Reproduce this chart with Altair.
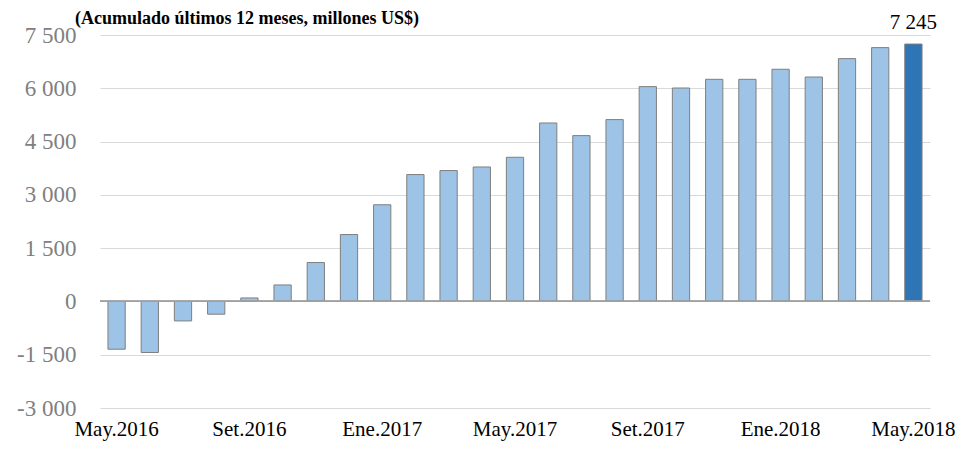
import altair as alt
import pandas as pd

months = ["May.2016", "Jun.2016", "Jul.2016", "Ago.2016", "Set.2016", "Oct.2016",
          "Nov.2016", "Dic.2016", "Ene.2017", "Feb.2017", "Mar.2017", "Abr.2017",
          "May.2017", "Jun.2017", "Jul.2017", "Ago.2017", "Set.2017", "Oct.2017",
          "Nov.2017", "Dic.2017", "Ene.2018", "Feb.2018", "Mar.2018", "Abr.2018",
          "May.2018"]
values = [-1345, -1438, -549, -360, 98, 464, 1095, 1883, 2721, 3571, 3684, 3785,
          4058, 5023, 4668, 5119, 6047, 6008, 6253, 6253, 6535, 6317, 6835, 7145,
          7245]
highlight = [False] * 24 + [True]
tick_labels = ["May.2016", "Set.2016", "Ene.2017", "May.2017", "Set.2017",
               "Ene.2018", "May.2018"]
y_ticks = [-3000, -1500, 0, 1500, 3000, 4500, 6000, 7500]
title_text = "(Acumulado últimos 12 meses, millones US$)"
last_label = "7 245"

df = pd.DataFrame({"mes": months, "valor": values, "ult": highlight})
df["etiqueta"] = ["" for _ in range(24)] + [last_label]
df["cero"] = 0

FONT = "Liberation Serif"

x_axis = alt.Axis(values=tick_labels, title=None, labelAngle=0, ticks=False,
                  domain=False, labelFont=FONT, labelFontSize=21,
                  labelColor="#000000", labelPadding=10, grid=False)
y_axis = alt.Axis(values=y_ticks, title=None, ticks=False, domain=False,
                  labelFont=FONT, labelFontSize=23, labelColor="#808080",
                  labelPadding=24, grid=True, gridColor="#d9d9d9", gridWidth=1,
                  labelExpr="(datum.value < 0 ? '-' : '') + replace(format(abs(datum.value), ','), ',', ' ')")
x_scale = alt.Scale(paddingInner=0.48, paddingOuter=0.24)
y_scale = alt.Scale(domain=[-3000, 7500], nice=False, zero=False)

base = alt.Chart(df)

bars = base.mark_bar(stroke="#7f7f7f", strokeWidth=1).encode(
    x=alt.X("mes:N", sort=months, scale=x_scale, axis=x_axis),
    y=alt.Y("valor:Q", scale=y_scale, axis=y_axis),
    y2=alt.Y2("cero:Q"),
    color=alt.Color("ult:N", scale=alt.Scale(domain=[False, True], range=["#9dc3e6", "#2e75b6"]),
                    legend=None),
)

zero = base.mark_rule(color="#a0a0a0", strokeWidth=1).encode(
    y=alt.Y("cero:Q", scale=y_scale, axis=y_axis)
)

labels = base.mark_text(font=FONT, fontSize=21, color="#000000",
                        baseline="alphabetic", dy=-15).encode(
    x=alt.X("mes:N", sort=months, scale=x_scale, axis=x_axis),
    y=alt.Y("valor:Q", scale=y_scale, axis=y_axis),
    text="etiqueta:N",
)

title = alt.Chart(pd.DataFrame({"t": [title_text]})).mark_text(
    font=FONT, fontSize=18, fontWeight="bold", color="#000000",
    align="left", baseline="alphabetic"
).encode(x=alt.value(-25), y=alt.value(-11), text="t:N")

chart = alt.layer(bars, zero, labels, title).properties(
    width=830, height=373,
    autosize=alt.AutoSizeParams(type="none"),
    padding={"left": 92, "top": 27, "right": 28, "bottom": 34},
    background="white",
    view=alt.ViewBackground(strokeWidth=0, stroke="transparent"),
).configure_view(strokeWidth=0, stroke="transparent").configure_axis(
    domain=False, ticks=False
).configure_axisX(grid=False)

chart.save("out.html", embed_options={"renderer": "svg", "actions": False})
